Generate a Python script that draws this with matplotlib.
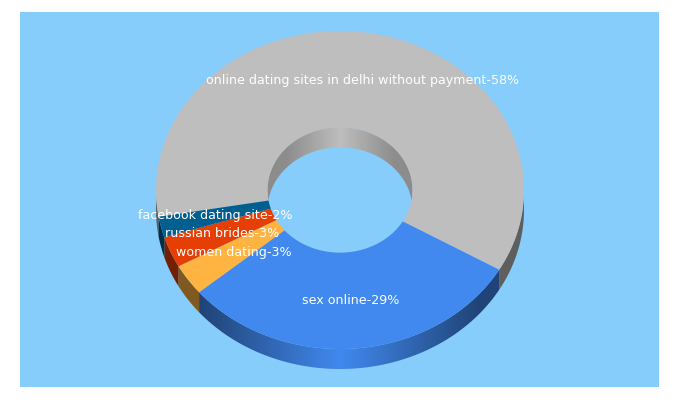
import numpy as np
import matplotlib
matplotlib.use("Agg")
import matplotlib.pyplot as plt
from matplotlib.colors import to_rgb
from matplotlib.patches import Polygon, Rectangle

# 3d donut, values as on the labels (they do not add up to 100)
names = ["online dating sites in delhi without payment", "sex online", "women dating",
         "russian brides", "facebook dating site"]
percents = [58, 29, 3, 3, 2]
colors = ["#bebebe", "#4189ef", "#ffb340", "#e53f06", "#005f8f"]

bg = "#87cdfc"
cx, cy = 340.0, 190.0
rx, ry = 184.0, 159.0
hole = 0.394
depth = 20.0
start = 260.3


def ring_xy(ang, k=1.0):
    a = np.radians(ang)
    return cx + rx * k * np.sin(a), cy - ry * k * np.cos(a)


def wall(t, color, k, dark):
    # extruded strip along the ellipse, filled with a left-right gradient
    x, y = ring_xy(t, k)
    pts = np.c_[np.r_[x, x[::-1]], np.r_[y, y[::-1] + depth]]
    clip = Polygon(pts, closed=True, facecolor="none", edgecolor="none", transform=ax.transData)
    ax.add_patch(clip)
    xs = np.linspace(x.min() - 1, x.max() + 1, 400)
    s = np.minimum(np.abs(xs - cx) / (rx * k * 0.75), 1.0)
    grad = np.outer(1.0 - dark * s, np.array(to_rgb(color)))[None, :, :]
    im = ax.imshow(grad, extent=(xs[0], xs[-1], pts[:, 1].max(), pts[:, 1].min()),
                   aspect="auto", interpolation="bilinear", zorder=1)
    im.set_clip_path(clip)


fig = plt.figure(figsize=(6.8, 4.0), dpi=100)
ax = fig.add_axes([0, 0, 1, 1])
ax.add_patch(Rectangle((20, 12), 639, 375, facecolor=bg, edgecolor="none", zorder=0))

edges = start + np.concatenate([[0], np.cumsum(percents)]) * 360.0 / sum(percents)

# outer wall, only the front half shows
for i, col in enumerate(colors):
    for front_lo, front_hi in [(90.0, 270.0), (450.0, 630.0)]:
        lo = max(edges[i], front_lo)
        hi = min(edges[i + 1], front_hi)
        if hi > lo:
            wall(np.linspace(lo, hi, 120), col, 1.0, 0.5)

# inner wall, back half of the hole
wall(np.linspace(-90, 90, 300), colors[0], hole, 0.26)

# top faces
for i, col in enumerate(colors):
    t = np.linspace(edges[i], edges[i + 1], 200)
    xo, yo = ring_xy(t)
    xi, yi = ring_xy(t[::-1], hole)
    ax.fill(np.r_[xo, xi], np.r_[yo, yi], facecolor=col, edgecolor="none", zorder=2)

# labels sit in the middle of each slice
for i, name in enumerate(names):
    mid = (edges[i] + edges[i + 1]) / 2
    x, y = ring_xy(mid, (1 + hole) / 2)
    ax.text(x, y, "%s-%d%%" % (name, percents[i]), color="white", fontsize=9.1,
            ha="center", va="center", family="DejaVu Sans", zorder=3)

ax.set_xlim(0, 680)
ax.set_ylim(400, 0)
ax.axis("off")
fig.savefig("out.png", dpi=100, facecolor="white")
